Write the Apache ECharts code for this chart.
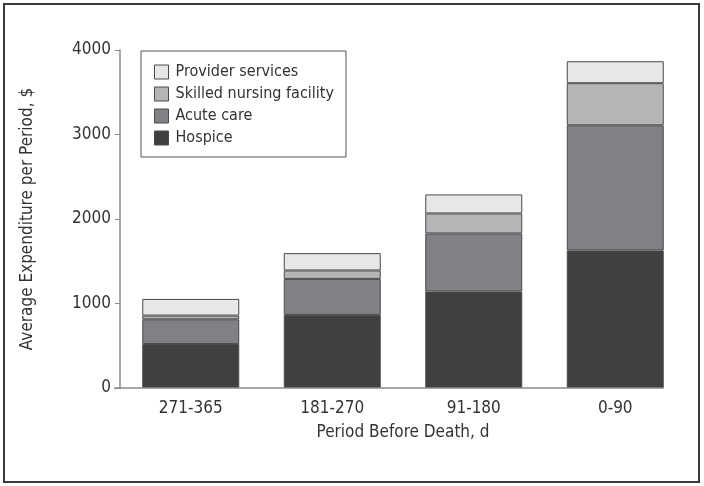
<!DOCTYPE html>
<html>
<head>
<meta charset="utf-8">
<script src="https://cdn.jsdelivr.net/npm/echarts@6/dist/echarts.min.js"></script>
<style>
	html, body { margin: 0; padding: 0; background: #fff; }
	#main { width: 704px; height: 486px; }
</style>
</head>
<body>
<div id="main"></div>
<script>
// 数据
var periods = [ '271-365', '181-270', '91-180', '0-90' ];
var hospice = [ 520, 865, 1142, 1628 ];
var acuteCare = [ 293, 426, 687, 1481 ];
var skilledNursing = [ 44, 100, 237, 498 ];
var providerServices = [ 197, 205, 225, 260 ];
var yTicks = [ 0, 1000, 2000, 3000, 4000 ];

var fontName = '"Liberation Sans Narrow", "DejaVu Sans Condensed", sans-serif';

function makeSeries(name, data, color) {
	return {
		name : name,
		type : 'bar',
		stack : 'total',
		barWidth : 97,
		data : data,
		itemStyle : {
			color : color,
			borderColor : '#4a4a4a',
			borderWidth : 1
		}
	};
}

var myChart = echarts.init(document.getElementById('main'));

var option = {
	animation : false,
	textStyle : {
		fontFamily : fontName
	},
	grid : {
		left : 120,
		right : 18,
		top : 50,
		bottom : 98
	},
	legend : { // 图例
		orient : 'vertical',
		left : 141,
		top : 51,
		padding : [ 13, 12, 11, 13 ],
		icon : 'rect',
		itemWidth : 14,
		itemHeight : 14,
		itemGap : 6,
		borderColor : '#555555',
		borderWidth : 1,
		data : [ 'Provider services', 'Skilled nursing facility', 'Acute care', 'Hospice' ],
		itemStyle : {
			borderColor : '#4a4a4a',
			borderWidth : 1
		},
		textStyle : {
			fontSize : 16,
			color : '#333333',
			fontFamily : fontName,
			padding : [ 0, 0, 0, 2 ]
		}
	},
	xAxis : {
		type : 'category',
		data : periods,
		name : 'Period Before Death, d',
		nameLocation : 'middle',
		nameGap : 36,
		nameTextStyle : {
			fontSize : 17,
			color : '#333333'
		},
		axisLine : {
			show : false
		},
		axisTick : {
			show : false
		},
		axisLabel : {
			fontSize : 17,
			color : '#333333',
			margin : 12
		}
	},
	yAxis : {
		type : 'value',
		min : yTicks[0],
		max : yTicks[yTicks.length - 1],
		interval : 1000,
		name : 'Average Expenditure per Period, $',
		nameLocation : 'middle',
		nameGap : 84,
		nameTextStyle : {
			fontSize : 17,
			color : '#333333'
		},
		axisLine : {
			show : true,
			lineStyle : {
				color : '#8a8a8a',
				width : 1.5
			}
		},
		axisTick : {
			show : true,
			length : 5,
			lineStyle : {
				color : '#8a8a8a'
			}
		},
		axisLabel : {
			fontSize : 17,
			color : '#333333',
			margin : 9,
			formatter : function(v) {
				return String(v);
			}
		},
		splitLine : {
			show : false
		}
	},
	series : [
		makeSeries('Hospice', hospice, '#404042'),
		makeSeries('Acute care', acuteCare, '#808184'),
		makeSeries('Skilled nursing facility', skilledNursing, '#b4b5b7'),
		makeSeries('Provider services', providerServices, '#e6e7e8')
	]
};

myChart.setOption(option);

// 外框和 X 轴线
var lastRight = myChart.convertToPixel({ xAxisIndex : 0 }, periods.length - 1) + 97 / 2;
var zeroY = myChart.convertToPixel({ yAxisIndex : 0 }, 0);
myChart.setOption({
	graphic : [ {
		type : 'rect',
		shape : { x : 4, y : 4, width : 695, height : 478 },
		style : { fill : null, stroke : '#3a3a3a', lineWidth : 2 },
		silent : true
	}, {
		type : 'line',
		shape : { x1 : 114, y1 : zeroY, x2 : lastRight, y2 : zeroY },
		style : { stroke : '#8a8a8a', lineWidth : 1.5 },
		z : 10,
		silent : true
	} ]
});
</script>
</body>
</html>
